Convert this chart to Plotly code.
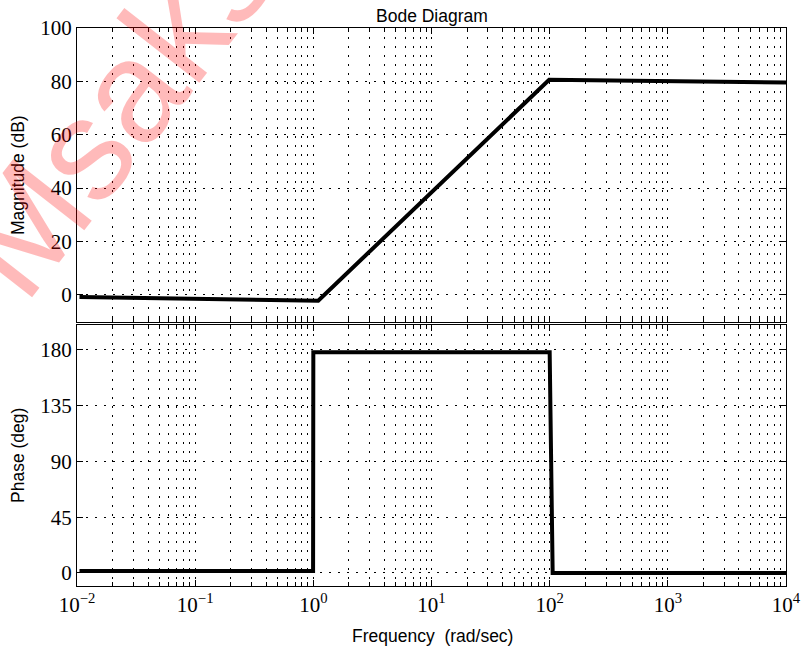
import plotly.graph_objects as go

# ---- data ----
mag_freq = [0.0105, 1.1, 99, 10000]
mag_db = [-0.8, -2.2, 80.6, 79.6]

phase_freq = [0.0105, 0.995, 1.0, 100, 106, 10000]
phase_deg = [1.5, 1.5, 178, 178, 0, 0]

x_tickvals = [1e-2, 1e-1, 1e0, 1e1, 1e2, 1e3, 1e4]
x_ticktext = ["10<sup>\u22122</sup>", "10<sup>\u22121</sup>", "10<sup>0</sup>",
              "10<sup>1</sup>", "10<sup>2</sup>", "10<sup>3</sup>", "10<sup>4</sup>"]
mag_ticks = [0, 20, 40, 60, 80, 100]
phase_ticks = [0, 45, 90, 135, 180]

minor_vals = [m * 10 ** e for e in range(-2, 4) for m in range(2, 10)]

fig = go.Figure()
fig.add_trace(go.Scatter(x=mag_freq, y=mag_db, mode="lines",
                         line=dict(color="black", width=4), xaxis="x", yaxis="y",
                         showlegend=False))
fig.add_trace(go.Scatter(x=phase_freq, y=phase_deg, mode="lines",
                         line=dict(color="black", width=4), xaxis="x2", yaxis="y2",
                         showlegend=False))

dash = "2px,7px"
tickfont = dict(family="Liberation Serif", size=21, color="black")
sans = dict(family="Liberation Sans", size=17.5, color="black")

xcommon = dict(type="log", range=[-2, 4], tickmode="array", tickvals=x_tickvals,
               showline=True, linecolor="black", linewidth=1, mirror="allticks",
               ticks="inside", ticklen=6, tickcolor="black", automargin=False,
               showgrid=True, gridcolor="black", gridwidth=1, griddash=dash,
               zeroline=False,
               minor=dict(tickmode="array", tickvals=minor_vals, ticks="inside",
                          ticklen=4, tickcolor="black", showgrid=True,
                          gridcolor="black", gridwidth=1, griddash=dash))

ycommon = dict(showline=True, linecolor="black", linewidth=1, mirror="allticks",
               ticks="inside", ticklen=6, tickcolor="black", tickmode="array",
               showgrid=True, gridcolor="black", gridwidth=1, griddash=dash,
               zeroline=False, tickfont=tickfont, automargin=False)

W, H = 801, 649
L, T = 77, 28
R = W - 786
B = H - 586
pw, ph = W - L - R, H - T - B


def px_x(p):
    return (p - L) / pw


def px_y(p):
    return (H - B - p) / ph


fig.update_layout(
    width=W, height=H,
    margin=dict(l=L, r=R, t=T, b=B),
    paper_bgcolor="white", plot_bgcolor="white",
    xaxis=dict(xcommon, domain=[0, 1], anchor="y", showticklabels=False, matches="x2"),
    xaxis2=dict(xcommon, domain=[0, 1], anchor="y2", ticktext=x_ticktext,
                tickfont=tickfont),
    yaxis=dict(ycommon, domain=[0.474, 1], range=[-10, 100], tickvals=mag_ticks),
    yaxis2=dict(ycommon, domain=[0, 0.468], range=[-10.5, 200], tickvals=phase_ticks),
    annotations=[
        dict(text="Bode Diagram", xref="paper", yref="paper", x=px_x(432), y=px_y(16),
             xanchor="center", yanchor="middle", showarrow=False, font=sans),
        dict(text="Frequency  (rad/sec)", xref="paper", yref="paper", x=px_x(432),
             y=px_y(636), xanchor="center", yanchor="middle", showarrow=False, font=sans),
        dict(text="Magnitude (dB)", xref="paper", yref="paper", x=px_x(18),
             y=px_y(175), xanchor="center", yanchor="middle", showarrow=False,
             textangle=-90, font=sans),
        dict(text="Phase (deg)", xref="paper", yref="paper", x=px_x(18),
             y=px_y(456), xanchor="center", yanchor="middle", showarrow=False,
             textangle=-90, font=sans),
        dict(text="Msaks", xref="paper", yref="paper", x=px_x(114), y=px_y(111),
             xanchor="center", yanchor="middle", showarrow=False, textangle=-52,
             font=dict(family="Liberation Sans", size=145,
                       color="rgba(255,0,0,0.27)")),
    ],
)

fig.write_html("out.html", config={"displayModeBar": False},
               post_script="document.body.style.margin='0';document.body.style.overflow='hidden';")
